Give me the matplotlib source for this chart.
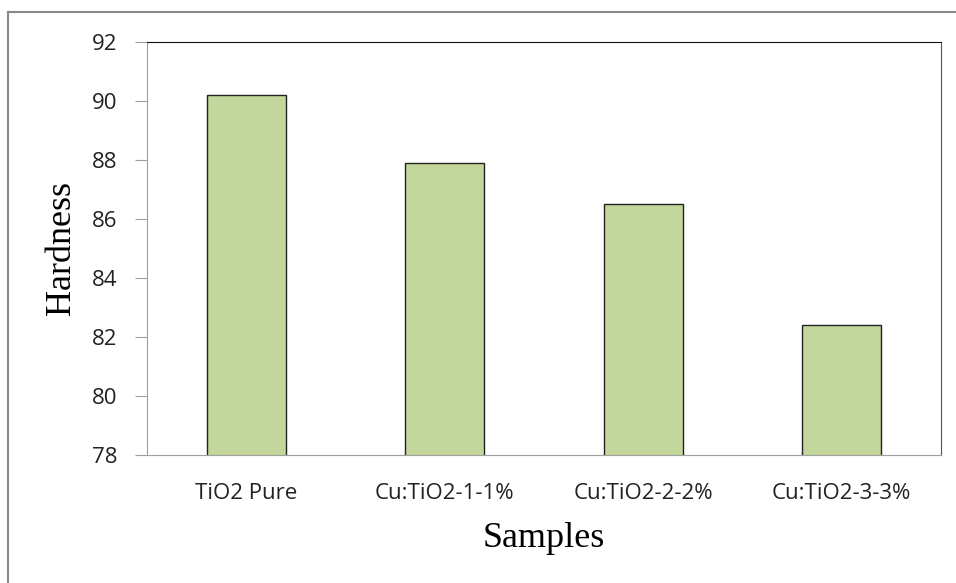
import matplotlib.pyplot as plt
from matplotlib.lines import Line2D

samples = ['TiO2 Pure', 'Cu:TiO2-1-1%', 'Cu:TiO2-2-2%', 'Cu:TiO2-3-3%']
hardness = [90.2, 87.9, 86.5, 82.4]
yticks = [78, 80, 82, 84, 86, 88, 90, 92]

fig = plt.figure(figsize=(9.56, 5.83), dpi=100)
ax = fig.add_axes([0.1538, 0.2196, 0.8305, 0.7084])

x = range(len(samples))
ax.bar(x, hardness, width=0.4, color='#c3d69b', edgecolor='#222222', linewidth=1.0, zorder=2)

ax.set_xlim(-0.5, len(samples) - 0.5)
ax.set_ylim(78, 92)
ax.set_yticks(yticks)
ax.set_xticks(list(x))
ax.set_xticklabels(samples)

for lbl in ax.get_yticklabels() + ax.get_xticklabels():
    lbl.set_fontfamily('Open Sans')
    lbl.set_fontsize(16)
    lbl.set_color('#222222')

ax.tick_params(axis='y', length=9, color='#a0a0a0', pad=12)
ax.tick_params(axis='x', length=0, pad=20)

ax.spines['left'].set_color('#a0a0a0')
ax.spines['bottom'].set_color('#a0a0a0')
ax.spines['top'].set_color('#111111')
ax.spines['right'].set_color('#555555')

ax.set_ylabel('Hardness', family='Liberation Serif', fontsize=26, labelpad=10)
ax.set_xlabel('Samples', family='Liberation Serif', fontsize=26, labelpad=13)

# outer frame (only left and top edges visible in the crop)
fig.add_artist(Line2D([0.0084, 0.0084], [0, 1 - 12 / 583], transform=fig.transFigure,
                      color='#888888', linewidth=1.5))
fig.add_artist(Line2D([0.0084, 1], [1 - 12 / 583, 1 - 12 / 583], transform=fig.transFigure,
                      color='#888888', linewidth=1.5))

fig.savefig('out.png', dpi=100)
